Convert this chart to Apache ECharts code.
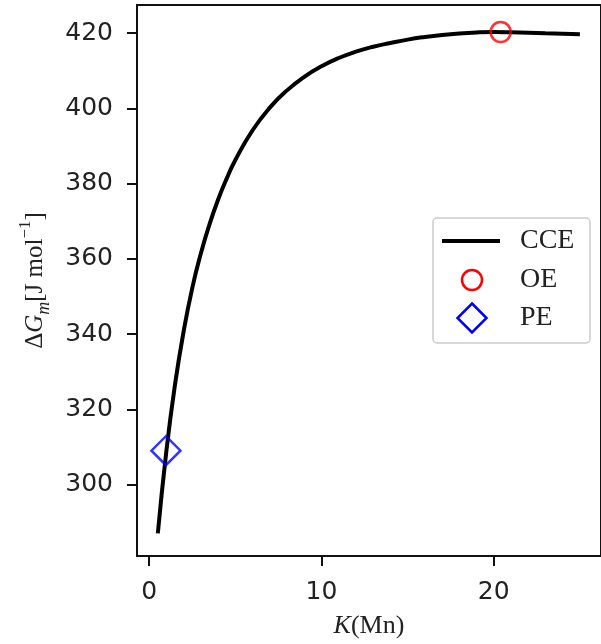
<!DOCTYPE html>
<html>
<head>
<meta charset="utf-8">
<script src="https://cdn.jsdelivr.net/npm/echarts@6/dist/echarts.min.js"></script>
<style>
html,body{margin:0;padding:0;background:#fff;}
#chart{width:601px;height:644px;}
</style>
</head>
<body>
<div id="chart"></div>
<script>
// ---- data ----
var cceK = [0.5, 1.0, 1.5, 2.0, 2.5, 3.0, 3.5, 4.0, 4.5, 5.0, 6.0, 7.0, 8.0, 9.0, 10.0, 11.0, 12.0, 13.0, 14.0, 15.0, 16.0, 17.0, 18.0, 19.0, 20.0, 21.0, 22.0, 23.0, 24.0, 25.0];
var cceG = [287.0, 309.1, 326.7, 340.8, 352.3, 361.5, 369.2, 375.8, 381.4, 386.3, 394.2, 400.2, 404.8, 408.4, 411.2, 413.4, 415.1, 416.4, 417.4, 418.3, 419.0, 419.55, 419.95, 420.2, 420.3, 420.25, 420.15, 420.0, 419.85, 419.7];
var oePoint = [20.4, 420.3];
var pePoint = [0.97, 309.0];
var xTicks = [0, 10, 20];
var yTicks = [300, 320, 340, 360, 380, 400, 420];
var legendNames = ['CCE', 'OE', 'PE'];

var chart = echarts.init(document.getElementById('chart'), null, {renderer: 'canvas'});
var lineData = cceK.map(function (k, i) { return [k, cceG[i]]; });

var serif = '"Liberation Serif", "Times New Roman", serif';
var sans = '"DejaVu Sans", sans-serif';

var option = {
  animation: false,
  backgroundColor: '#fff',
  grid: {
    left: 137, top: 5, width: 465.7, height: 551.5,
    show: true, borderColor: '#111', borderWidth: 2, backgroundColor: 'transparent'
  },
  xAxis: {
    type: 'value', min: -0.71, max: 26.225,
    splitLine: {show: false},
    axisLine: {show: true, onZero: false, lineStyle: {color: '#111', width: 2}},
    axisTick: {show: true, inside: false, length: 10, lineStyle: {color: '#111', width: 2}, customValues: xTicks},
    axisLabel: {show: true, margin: 24, fontFamily: sans, fontSize: 25, color: '#222', customValues: xTicks},
    name: '{i|K}{t|(Mn)}',
    nameLocation: 'middle', nameGap: 57,
    nameTextStyle: {
      rich: {
        i: {fontFamily: serif, fontStyle: 'italic', fontSize: 26, color: '#222'},
        t: {fontFamily: serif, fontSize: 26, color: '#222'}
      }
    }
  },
  yAxis: {
    type: 'value', min: 281.0, max: 427.5,
    splitLine: {show: false},
    axisLine: {show: true, onZero: false, lineStyle: {color: '#111', width: 2}},
    axisTick: {show: true, inside: false, length: 10, lineStyle: {color: '#111', width: 2}, customValues: yTicks},
    axisLabel: {show: true, margin: 24, fontFamily: sans, fontSize: 25, color: '#222', customValues: yTicks},
    name: '{t|Δ}{it|G}{sub|m}{t|[J mol}{sup|−1}{t|]}',
    nameLocation: 'middle', nameGap: 84, nameRotate: 90,
    nameTextStyle: {
      rich: {
        t: {fontFamily: serif, fontSize: 25, lineHeight: 36, color: '#222', verticalAlign: 'middle'},
        it: {fontFamily: serif, fontStyle: 'italic', fontSize: 25, lineHeight: 36, color: '#222', verticalAlign: 'middle'},
        sub: {fontFamily: serif, fontStyle: 'italic', fontSize: 18, lineHeight: 18, color: '#222', verticalAlign: 'bottom'},
        sup: {fontFamily: serif, fontSize: 17, lineHeight: 17, color: '#222', verticalAlign: 'top'}
      }
    }
  },
  series: [
    {
      name: legendNames[0], type: 'line', data: lineData, showSymbol: false, symbol: 'none',
      smooth: 0.5, lineStyle: {color: '#000', width: 4}, z: 2, clip: true
    },
    {
      name: legendNames[1], type: 'scatter', data: [oePoint], symbol: 'circle', symbolSize: 20,
      itemStyle: {color: 'rgba(0,0,0,0)', borderColor: '#ff0000', borderWidth: 2.5}, z: 3
    },
    {
      name: legendNames[2], type: 'scatter', data: [pePoint], symbol: 'diamond', symbolSize: 29,
      itemStyle: {color: 'rgba(0,0,0,0)', borderColor: '#0000ff', borderWidth: 2.5}, z: 3
    }
  ],
  graphic: [
    {type: 'rect', shape: {x: 433, y: 218, width: 157, height: 125, r: 4}, style: {fill: '#fff', stroke: '#cccccc', lineWidth: 1.5}, z: 10},
    {type: 'line', shape: {x1: 442, y1: 241, x2: 500, y2: 241}, style: {stroke: '#000', lineWidth: 4}, z: 11},
    {type: 'circle', shape: {cx: 472, cy: 280, r: 10}, style: {fill: 'transparent', stroke: '#ff0000', lineWidth: 2.5}, z: 11},
    {type: 'polygon', shape: {points: [[472, 303.5], [486.5, 318], [472, 332.5], [457.5, 318]]}, style: {fill: 'transparent', stroke: '#0000ff', lineWidth: 2.5}, z: 11},
    {type: 'text', x: 520, y: 241, style: {text: legendNames[0], font: '28px ' + serif, fill: '#222', verticalAlign: 'middle'}, z: 11},
    {type: 'text', x: 520, y: 280, style: {text: legendNames[1], font: '28px ' + serif, fill: '#222', verticalAlign: 'middle'}, z: 11},
    {type: 'text', x: 520, y: 318, style: {text: legendNames[2], font: '28px ' + serif, fill: '#222', verticalAlign: 'middle'}, z: 11}
  ]
};
chart.setOption(option);
</script>
</body>
</html>
